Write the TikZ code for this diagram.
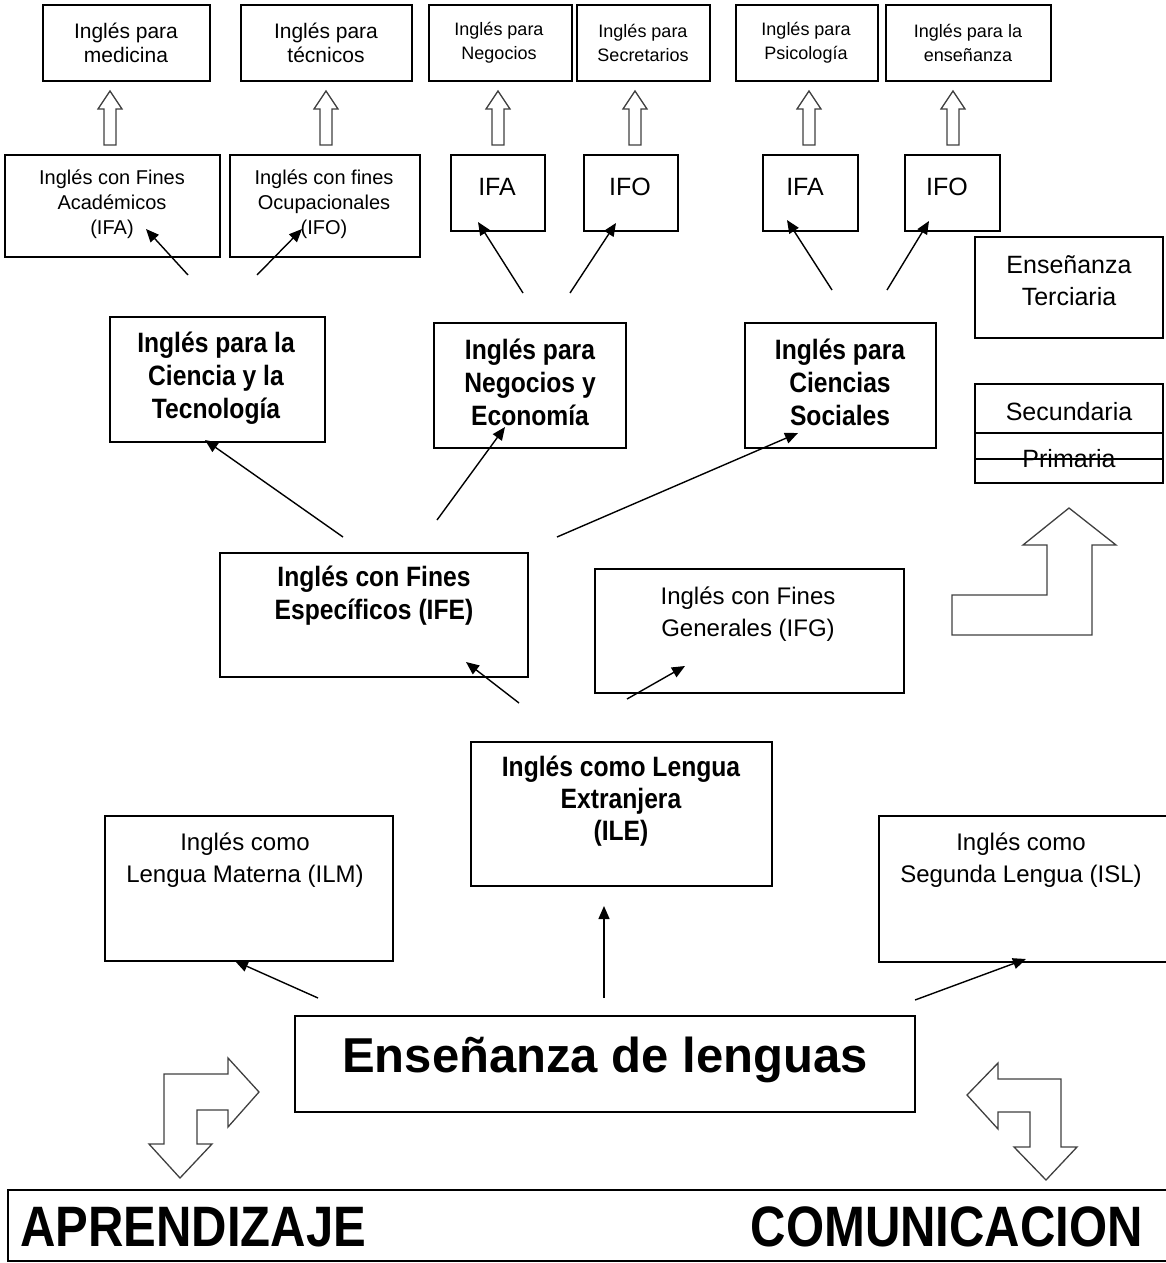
\documentclass[tikz,border=0pt]{standalone}
\usepackage{fontspec}
\setmainfont{Liberation Sans}
\newfontfamily\cnd[FakeStretch=0.88]{Liberation Sans}
\newfontfamily\ccnd[FakeStretch=0.86]{Liberation Sans}
\usetikzlibrary{arrows.meta,fit}
\newcommand\fs[2]{\fontsize{#1}{#2}\selectfont}
\newcommand\uparrowshape[1]{\draw[hollow] (#1,91) -- (#1+12,109) -- (#1+6,109) -- (#1+6,145) -- (#1-6,145) -- (#1-6,109) -- (#1-12,109) -- cycle;}
\begin{document}
\begin{tikzpicture}[x=1pt,y=-1pt,
  box/.style={draw, line width=1.4pt, inner sep=0pt, rectangle},
  txt/.style={align=center, inner sep=0pt},
  small/.style={txt, font=\fs{21}{24}},
  smaller/.style={txt, font=\fs{18}{24}},
  mid/.style={txt, font=\fs{20}{25}},
  acr/.style={txt, font=\fs{25}{30}},
  boldt/.style={txt, font=\cnd\bfseries\fs{28}{33}},
  reg/.style={txt, font=\fs{24}{32}},
  arr/.style={line width=1.4pt, -{Triangle[length=13pt,width=11pt]}},
  hollow/.style={draw=black!75, line width=1.3pt, fill=white, line join=miter}]
\useasboundingbox (0,0) rectangle (1165,1263);

% top row
\node[box, fit={(43,5) (210,81)}] (m1) {};
\node[small] (m1t) at (126,43) {Inglés para\\medicina};
\node[box, fit={(241,5) (412,81)}] (m2) {};
\node[small] (m2t) at (326,43) {Inglés para\\técnicos};
\node[box, fit={(429,5) (572,81)}] (m3) {};
\node[smaller] (m3t) at (499,43) {Inglés para\\Negocios};
\node[box, fit={(577,5) (710,81)}] (m4) {};
\node[smaller] (m4t) at (643,43) {Inglés para\\Secretarios};
\node[box, fit={(736,5) (878,81)}] (m5) {};
\node[smaller] (m5t) at (806,43) {Inglés para\\Psicología};
\node[box, fit={(886,5) (1051,81)}] (m6) {};
\node[smaller] (m6t) at (968,43) {Inglés para la\\enseñanza};

% hollow up arrows
\uparrowshape{110}
\uparrowshape{326}
\uparrowshape{498}
\uparrowshape{635}
\uparrowshape{809}
\uparrowshape{953}

% second row
\node[box, fit={(5,155) (220,257)}] (r1) {};
\node[mid] (r1t) at (112,204) {Inglés con Fines\\Académicos\\(IFA)};
\node[box, fit={(230,155) (420,257)}] (r2) {};
\node[mid] (r2t) at (324,204) {Inglés con fines\\Ocupacionales\\(IFO)};
\node[box, fit={(451,155) (545,231)}] (r3) {};
\node[acr] (r3t) at (497,187) {IFA};
\node[box, fit={(584,155) (678,231)}] (r4) {};
\node[acr] (r4t) at (630,187) {IFO};
\node[box, fit={(763,155) (858,231)}] (r5) {};
\node[acr] (r5t) at (805,187) {IFA};
\node[box, fit={(905,155) (1000,231)}] (r6) {};
\node[acr] (r6t) at (947,187) {IFO};

% third row
\node[box, fit={(110,317) (325,442)}] (c1) {};
\node[boldt] (c1t) at (216,378) {Inglés para la\\Ciencia y la\\Tecnología};
\node[box, fit={(434,323) (626,448)}] (c2) {};
\node[boldt] (c2t) at (530,382) {Inglés para\\Negocios y\\Economía};
\node[box, fit={(745,323) (936,448)}] (c3) {};
\node[boldt] (c3t) at (840,382) {Inglés para\\Ciencias\\Sociales};

% right column
\node[box, fit={(975,237) (1163,338)}] (ter) {};
\node[txt, font=\fs{25}{32}] (tert) at (1069,281) {Enseñanza\\Terciaria};
\node[box, fit={(975,384) (1163,483)}] (sec) {};
\coordinate (l1a) at (975,433); \coordinate (l1b) at (1163,433);
\coordinate (l2a) at (975,459); \coordinate (l2b) at (1163,459);
\node[txt, font=\fs{25}{30}] (sect) at (1069,412) {Secundaria};
\node[txt, font=\fs{25}{30}] (prit) at (1069,459) {Primaria};
\draw[line width=1.4pt] (l1a) -- (l1b);
\draw[line width=1.4pt] (l2a) -- (l2b);
\draw[hollow] (952,635) -- (1092,635) -- (1092,545) -- (1116,545) -- (1069,508) -- (1023,545) -- (1047,545) -- (1047,595) -- (952,595) -- cycle;

% fourth row
\node[box, fit={(220,553) (528,677)}] (ife) {};
\node[boldt] (ifet) at (374,596) {Inglés con Fines\\Específicos (IFE)};
\node[box, fit={(595,569) (904,693)}] (ifg) {};
\node[reg] (ifgt) at (748,614) {Inglés con Fines\\Generales (IFG)};

% fifth row
\node[box, fit={(471,742) (772,886)}] (ile) {};
\node[boldt, font=\cnd\bfseries\fs{28}{32}] (ilet) at (621,801) {Inglés como Lengua\\Extranjera\\(ILE)};
\node[box, fit={(105,816) (393,961)}] (ilm) {};
\node[reg] (ilmt) at (245,860) {Inglés como\\Lengua Materna (ILM)};
\node[box, fit={(879,816) (1172,962)}] (isl) {};
\node[reg] (islt) at (1021,860) {Inglés como\\Segunda Lengua (ISL)};

% main
\node[box, fit={(295,1016) (915,1112)}] (enl) {};
\node[txt, font=\bfseries\fs{49}{55}] (enlt) at (605,1060) {Enseñanza de lenguas};

% bottom
\node[box, fit={(8,1190) (1172,1261)}] (bot) {};
\node[txt, font=\ccnd\bfseries\fs{57}{62}, anchor=west] (apr) at (20,1227) {APRENDIZAJE};
\node[txt, font=\ccnd\bfseries\fs{57}{62}, anchor=east] (com) at (1143,1227) {COMUNICACION};

% bent double arrows
\draw[hollow] (259,1092) -- (228,1058) -- (228,1074) -- (164,1074) -- (164,1144) -- (149,1144) -- (180,1178) -- (212,1144) -- (197,1144) -- (197,1110) -- (228,1110) -- (228,1127) -- cycle;
\draw[hollow] (967,1095) -- (998,1063) -- (998,1079) -- (1061,1079) -- (1061,1147) -- (1077,1147) -- (1046,1180) -- (1014,1147) -- (1030,1147) -- (1030,1112) -- (998,1112) -- (998,1129) -- cycle;

% connectors
\coordinate (s1) at (188,275); \coordinate (e1) at (146,229);
\coordinate (s2) at (257,275); \coordinate (e2) at (302,229);
\coordinate (s3) at (523,293); \coordinate (e3) at (478,222);
\coordinate (s4) at (570,293); \coordinate (e4) at (616,223);
\coordinate (s5) at (832,290); \coordinate (e5) at (787,220);
\coordinate (s6) at (887,290); \coordinate (e6) at (929,221);
\coordinate (s7) at (343,537); \coordinate (e7) at (205,440);
\coordinate (s8) at (437,520); \coordinate (e8) at (505,427);
\coordinate (s9) at (557,537); \coordinate (e9) at (798,433);
\coordinate (s10) at (519,703); \coordinate (e10) at (466,662);
\coordinate (s11) at (627,699); \coordinate (e11) at (685,666);
\coordinate (s12) at (318,998); \coordinate (e12) at (235,961);
\coordinate (s13) at (604,998); \coordinate (e13) at (604,906);
\coordinate (s14) at (915,1000); \coordinate (e14) at (1026,959);
\foreach \i in {1,...,14} {\draw[arr] (s\i) -- (e\i);}
\end{tikzpicture}
\end{document}
